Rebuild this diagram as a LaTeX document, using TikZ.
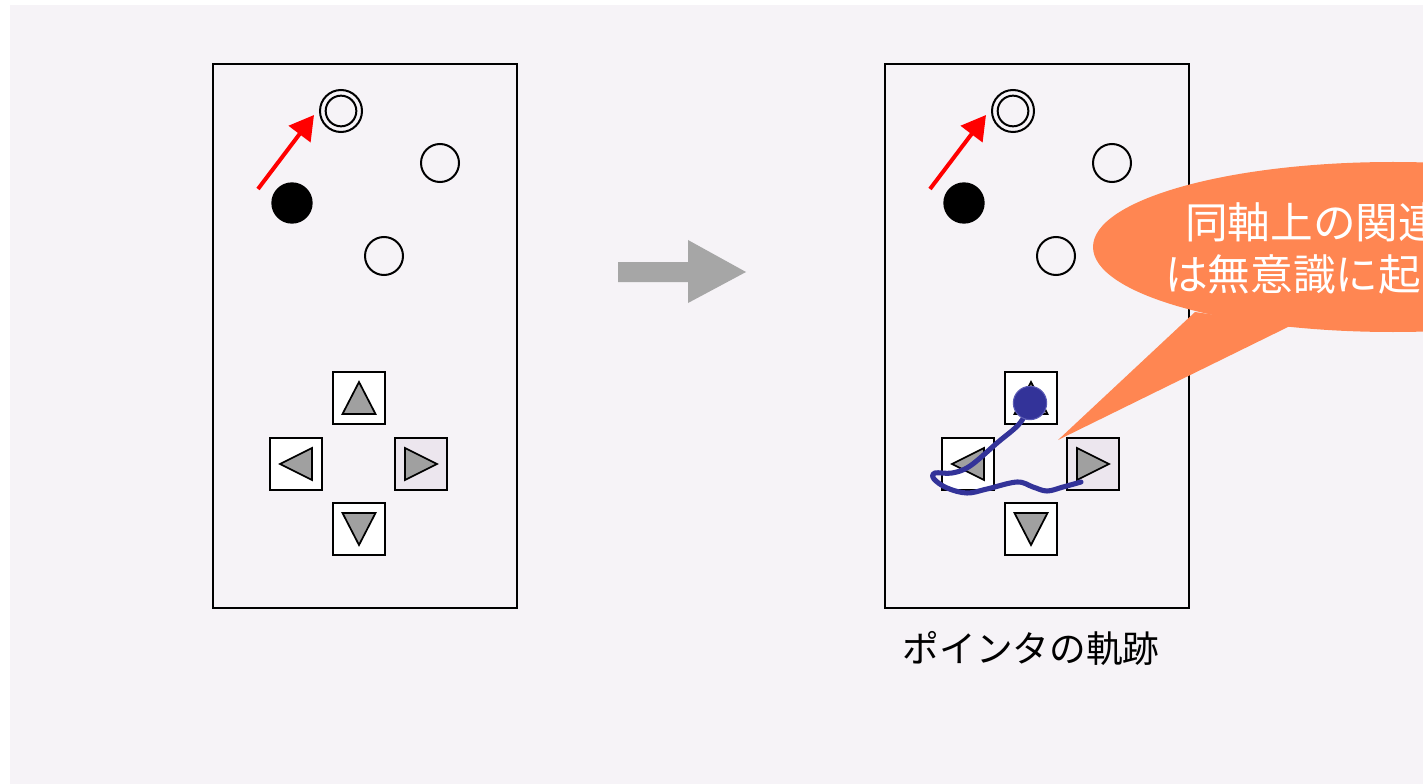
\documentclass[tikz,border=0pt]{standalone}
\usepackage{fontspec}
\newfontfamily\cjk{Noto Sans CJK JP}
\usetikzlibrary{arrows.meta}
\definecolor{bgc}{HTML}{F6F3F7}
\definecolor{lav}{HTML}{ECE6EE}
\definecolor{trig}{HTML}{A0A0A0}
\definecolor{arrg}{HTML}{A6A6A6}
\definecolor{callc}{HTML}{FF8652}
\definecolor{trajc}{HTML}{333399}
\definecolor{dotedge}{HTML}{5A5AB4}
\tikzset{
  panel/.style={draw=black,line width=1.5pt,minimum width=228pt,minimum height=408pt,inner sep=0pt},
  btn/.style={draw=black,line width=1.5pt,fill=white,minimum size=39pt,inner sep=0pt},
  btnlav/.style={btn,fill=lav},
  tri/.style={draw=black,line width=1.3pt,fill=trig,line join=miter},
  ocirc/.style={circle,draw=black,line width=1.5pt,minimum size=28.5pt,inner sep=0pt},
  bcirc/.style={circle,draw=black,fill=black,line width=1pt,minimum size=30pt,inner sep=0pt},
  dcout/.style={circle,draw=black,line width=1.5pt,minimum size=31.5pt,inner sep=0pt},
  dcin/.style={circle,draw=black,line width=1.5pt,minimum size=23pt,inner sep=0pt},
  redarr/.style={draw=red,line width=3pt,-{Triangle[length=18pt,width=20pt]}},
  traj/.style={draw=trajc,line width=3.8pt,line cap=round,line join=round},
  pdot/.style={circle,fill=trajc,draw=dotedge,line width=0.8pt,minimum size=25pt,inner sep=0pt},
  calltext/.style={text=white,font=\cjk\fontsize{32pt}{36pt}\selectfont,inner sep=0pt,anchor=west},
  lbl/.style={text=black,font=\cjk\fontsize{27.5pt}{32pt}\selectfont,inner sep=0pt}
}
\begin{document}
\begin{tikzpicture}[x=0.75pt,y=-0.75pt]
\useasboundingbox (0,0) rectangle (1423,784);
\clip (0,0) rectangle (1423,784);
\fill[bgc] (10,5) rectangle (1423,784);

\foreach \p/\dx in {L/0,R/672}{
  \node[panel] (panel\p) at (365+\dx,336) {};
  \node[dcout] (dc\p) at (341+\dx,111) {};
  \node[dcin] (dci\p) at (341+\dx,111) {};
  \node[bcirc] (bc\p) at (292+\dx,203) {};
  \node[ocirc] (ca\p) at (440+\dx,163) {};
  \node[ocirc] (cb\p) at (384+\dx,256) {};
  \coordinate (rs\p) at (258+\dx,189);
  \coordinate (rt\p) at (314+\dx,115);
  \draw[redarr] (rs\p) -- (rt\p);
  \node[btn] (up\p) at (359+\dx,398) {};
  \node[btn] (lf\p) at (296+\dx,464) {};
  \node[btnlav] (rg\p) at (421+\dx,464) {};
  \node[btn] (dn\p) at (359+\dx,529) {};
  \draw[tri] (up\p.center) ++(0,-16) -- ++(16.5,32) -- ++(-33,0) -- cycle;
  \draw[tri] (lf\p.center) ++(-16,0) -- ++(32,-16) -- ++(0,32) -- cycle;
  \draw[tri] (rg\p.center) ++(-16,-16) -- ++(32,16) -- ++(-32,16) -- cycle;
  \draw[tri] (dn\p.center) ++(-16.5,-16) -- ++(33,0) -- ++(-16.5,32) -- cycle;
}

% big grey arrow
\fill[arrg] (618,262) -- (688,262) -- (688,240) -- (746,272) -- (688,303) -- (688,282) -- (618,282) -- cycle;

% pointer trajectory
\coordinate (tstart) at (1030,403);
\draw[traj] plot[smooth,tension=0.6] coordinates {(tstart) (1020,423) (997,443) (970,466) (952,473) (935,473) (934,479) (947,488) (967,493) (987,489) (1017,482) (1033,487) (1047,491) (1063,487) (1081,482)};
\node[pdot] (dot) at (tstart) {};

% callout
\fill[callc] (1058,440) -- (1195,312) -- (1290,326) -- cycle;
\fill[callc] (1393,247) ellipse [x radius=225pt, y radius=63.75pt];
\node[calltext] (ct1) at (1185,222) {同軸上の関連};
\node[calltext] (ct2) at (1165,274) {は無意識に起};

% label
\node[lbl] (lab) at (1031,648) {ポインタの軌跡};
\end{tikzpicture}
\end{document}
